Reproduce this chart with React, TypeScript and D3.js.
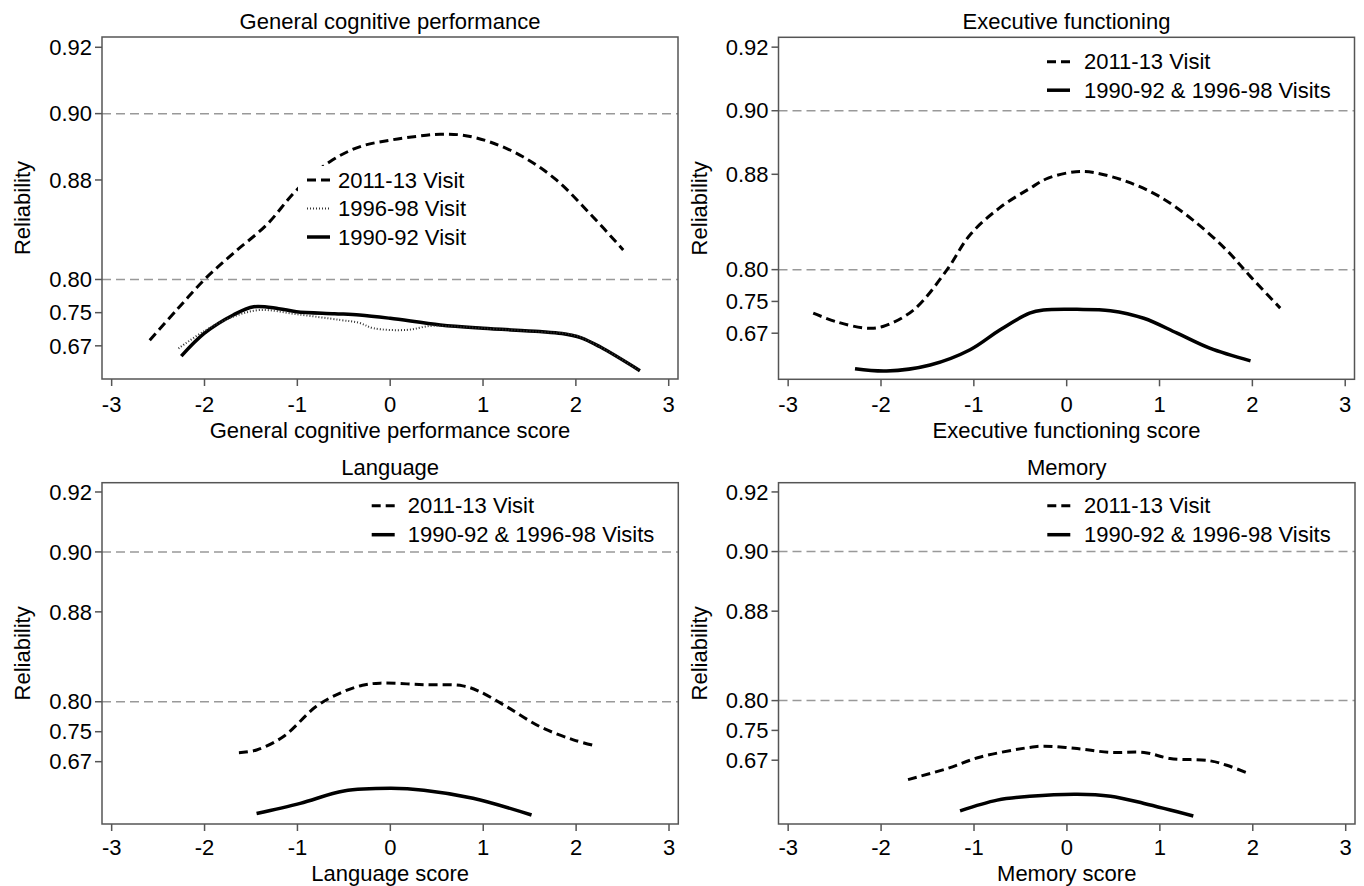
import React from "react";
import * as d3 from "d3";

// y is plotted as test information; tick labels show reliability = 1 - 1/I
const scoreTicks = [-3, -2, -1, 0, 1, 2, 3];
const infoTicks = [3, 4, 5, 8, 10, 12];
const refInfo = [5, 10];

// General cognitive performance
const gcpScore2011 = [-2.59, -2.3, -2.0, -1.69, -1.33, -1.01, -0.65, -0.33, 0, 0.3, 0.54, 0.78, 1.07, 1.43, 1.79, 2.15, 2.51];
const gcpInfo2011 = [3.17, 4.08, 5.0, 5.79, 6.65, 7.69, 8.55, 9.0, 9.2, 9.32, 9.38, 9.35, 9.15, 8.7, 8.0, 6.99, 5.89];
const gcpScore1996 = [-2.28, -2.0, -1.69, -1.4, -1.0, -0.54, -0.33, -0.18, 0.18, 0.43, 0.6, 1.0, 1.61, 1.97, 2.26, 2.69];
const gcpInfo1996 = [2.92, 3.45, 3.88, 4.08, 3.95, 3.78, 3.69, 3.53, 3.48, 3.6, 3.6, 3.53, 3.42, 3.33, 2.97, 2.25];
const gcpScore1990 = [-2.25, -2.0, -1.69, -1.47, -1.2, -1.01, -0.6, -0.33, 0, 0.54, 1.0, 1.61, 1.85, 2.05, 2.26, 2.69];
const gcpInfo1990 = [2.69, 3.38, 3.93, 4.18, 4.12, 4.03, 3.97, 3.93, 3.83, 3.63, 3.53, 3.43, 3.37, 3.25, 2.97, 2.25];

// Executive functioning
const efScore2011 = [-2.73, -2.48, -2.16, -1.98, -1.65, -1.29, -1.04, -0.72, -0.4, -0.2, 0.1, 0.3, 0.65, 1.0, 1.36, 1.72, 1.98, 2.3];
const efInfo2011 = [3.63, 3.36, 3.16, 3.21, 3.73, 4.99, 6.1, 6.95, 7.55, 7.88, 8.08, 8.05, 7.77, 7.3, 6.56, 5.62, 4.78, 3.79];
const efScoreEarly = [-2.28, -1.94, -1.47, -1.04, -0.72, -0.4, -0.25, 0.11, 0.47, 0.83, 1.19, 1.54, 1.98];
const efInfoEarly = [1.88, 1.81, 2.0, 2.48, 3.1, 3.63, 3.73, 3.75, 3.71, 3.47, 3.0, 2.53, 2.13];

// Language
const langScore2011 = [-1.63, -1.44, -1.15, -0.8, -0.54, -0.3, -0.11, 0.36, 0.78, 0.96, 1.25, 1.61, 1.97, 2.22];
const langInfo2011 = [3.3, 3.39, 3.84, 4.84, 5.29, 5.55, 5.62, 5.57, 5.53, 5.34, 4.84, 4.17, 3.73, 3.52];
const langScoreEarly = [-1.44, -0.97, -0.5, 0, 0.36, 0.89, 1.52];
const langInfoEarly = [1.27, 1.61, 2.02, 2.11, 2.05, 1.78, 1.22];

// Memory
const memScore2011 = [-1.71, -1.29, -0.93, -0.4, -0.25, 0.11, 0.47, 0.83, 1.11, 1.54, 1.72, 1.96];
const memInfo2011 = [2.35, 2.72, 3.11, 3.43, 3.47, 3.39, 3.26, 3.26, 3.06, 2.98, 2.83, 2.55];
const memScoreEarly = [-1.15, -0.75, -0.4, 0.11, 0.47, 0.83, 1.36];
const memInfoEarly = [1.3, 1.66, 1.79, 1.86, 1.79, 1.55, 1.13];

const FONT = "'Liberation Sans', Arial, sans-serif";
const FS = 22;

const lineStyles = {
  dash: { stroke: "#000", strokeWidth: 3, dash: "9 5" },
  solid: { stroke: "#000", strokeWidth: 3.5, dash: undefined },
  dot: { stroke: "#333", strokeWidth: 2, dash: "1 2" },
};

function Panel({ box, yMin, title, xTitle, tickDy, xTitleDy, series, legend, legendPos }) {
  const [left, top, right, bottom] = box;
  const x = d3.scaleLinear().domain([-3.104, 3.1]).range([left, right]);
  const y = d3.scaleLinear().domain([yMin, 12.31]).range([bottom, top]);
  const line = d3
    .line()
    .x((d) => x(d[0]))
    .y((d) => y(d[1]))
    .curve(d3.curveCatmullRom.alpha(0.5));
  const fmt = d3.format(".2f");
  const cx = (left + right) / 2;
  const cy = (top + bottom) / 2;

  return (
    <g fontFamily={FONT} fontSize={FS} fill="#000">
      <text x={cx} y={top - 8} textAnchor="middle">{title}</text>
      {refInfo.map((v) => (
        <line key={v} x1={left} x2={right} y1={y(v)} y2={y(v)} stroke="#999" strokeWidth={1.5} strokeDasharray="9 5" />
      ))}
      {series.map((s, i) => {
        const st = lineStyles[s.style];
        return (
          <path
            key={i}
            d={line(s.x.map((v, j) => [v, s.y[j]]))}
            fill="none"
            stroke={st.stroke}
            strokeWidth={st.strokeWidth}
            strokeDasharray={st.dash}
          />
        );
      })}
      {/* legend */}
      <g>
        {legendPos.bg && (
          <rect x={legendPos.bg[0]} y={legendPos.bg[1]} width={legendPos.bg[2]} height={legendPos.bg[3]} fill="#fff" />
        )}
        {legend.map((l, i) => {
          const st = lineStyles[l.style];
          const ly = legendPos.y + i * legendPos.step;
          return (
            <g key={i}>
              <line x1={legendPos.x} x2={legendPos.x + 23} y1={ly} y2={ly} stroke={st.stroke} strokeWidth={st.strokeWidth} strokeDasharray={st.dash} />
              <text x={legendPos.tx} y={ly} dy="0.35em">{l.label}</text>
            </g>
          );
        })}
      </g>
      {/* frame */}
      <rect x={left} y={top} width={right - left} height={bottom - top} fill="none" stroke="#555" strokeWidth={1.5} />
      {/* y axis */}
      {infoTicks.map((v) => (
        <g key={v}>
          <line x1={left - 7} x2={left} y1={y(v)} y2={y(v)} stroke="#555" strokeWidth={1.5} />
          <text x={left - 10} y={y(v)} dy="0.35em" textAnchor="end">{fmt(1 - 1 / v)}</text>
        </g>
      ))}
      <text transform={`translate(${left - 72},${cy}) rotate(-90)`} textAnchor="middle">Reliability</text>
      {/* x axis */}
      {scoreTicks.map((v) => (
        <g key={v}>
          <line x1={x(v)} x2={x(v)} y1={bottom} y2={bottom + 7} stroke="#555" strokeWidth={1.5} />
          <text x={x(v)} y={bottom + tickDy} textAnchor="middle">{v}</text>
        </g>
      ))}
      <text x={cx} y={bottom + xTitleDy} textAnchor="middle">{xTitle}</text>
    </g>
  );
}

export default function App() {
  const twoLegend = [
    { style: "dash", label: "2011-13 Visit" },
    { style: "solid", label: "1990-92 & 1996-98 Visits" },
  ];
  return (
    <svg width={1364} height={886} style={{ position: "absolute", left: 0, top: 0, background: "#fff" }}>
      <Panel
        box={[102, 37, 678, 379]}
        yMin={2}
        title="General cognitive performance"
        xTitle="General cognitive performance score"
        tickDy={33}
        xTitleDy={59}
        series={[
          { x: gcpScore2011, y: gcpInfo2011, style: "dash" },
          { x: gcpScore1990, y: gcpInfo1990, style: "solid" },
          { x: gcpScore1996, y: gcpInfo1996, style: "dot" },
        ]}
        legend={[
          { style: "dash", label: "2011-13 Visit" },
          { style: "dot", label: "1996-98 Visit" },
          { style: "solid", label: "1990-92 Visit" },
        ]}
        legendPos={{ x: 307, tx: 338, y: 180, step: 28.5, bg: [298, 166, 174, 86] }}
      />
      <Panel
        box={[778.5, 37.3, 1354.5, 379.3]}
        yMin={1.55}
        title="Executive functioning"
        xTitle="Executive functioning score"
        tickDy={33}
        xTitleDy={59}
        series={[
          { x: efScore2011, y: efInfo2011, style: "dash" },
          { x: efScoreEarly, y: efInfoEarly, style: "solid" },
        ]}
        legend={twoLegend}
        legendPos={{ x: 1047, tx: 1084, y: 61.7, step: 28.5 }}
      />
      <Panel
        box={[102, 482.7, 678.3, 824]}
        yMin={0.92}
        title="Language"
        xTitle="Language score"
        tickDy={31}
        xTitleDy={57}
        series={[
          { x: langScore2011, y: langInfo2011, style: "dash" },
          { x: langScoreEarly, y: langInfoEarly, style: "solid" },
        ]}
        legend={twoLegend}
        legendPos={{ x: 371.7, tx: 407.7, y: 505.7, step: 29 }}
      />
      <Panel
        box={[778.5, 482.7, 1355, 824]}
        yMin={0.86}
        title="Memory"
        xTitle="Memory score"
        tickDy={31}
        xTitleDy={57}
        series={[
          { x: memScore2011, y: memInfo2011, style: "dash" },
          { x: memScoreEarly, y: memInfoEarly, style: "solid" },
        ]}
        legend={twoLegend}
        legendPos={{ x: 1047.3, tx: 1084, y: 505.7, step: 29 }}
      />
    </svg>
  );
}
